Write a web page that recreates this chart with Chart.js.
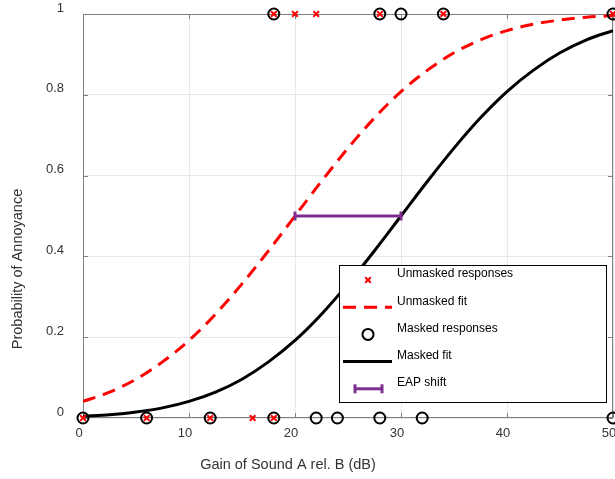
<!DOCTYPE html>
<html>
<head>
<meta charset="utf-8">
<title>Probability of Annoyance</title>
<script src="https://cdn.jsdelivr.net/npm/chart.js@4/dist/chart.umd.min.js"></script>
<style>
  html, body { margin: 0; padding: 0; background: #fff; }
  #wrap { width: 615px; height: 479px; }
</style>
</head>
<body>
<div id="wrap"><canvas id="chart" width="615" height="479"></canvas></div>
<script>
// Gains (dB) where each listener answered "not annoyed" (0) or "annoyed" (1)
const unmaskedNoGain = [0, 6, 12, 16, 18];
const unmaskedYesGain = [18, 20, 22, 28, 34, 50];
const maskedNoGain = [0, 6, 12, 18, 22, 24, 28, 32, 50];
const maskedYesGain = [18, 28, 30, 34, 50];

// Fitted psychometric curves, sampled every 2.5 dB
const fitGain = [0, 2.5, 5, 7.5, 10, 12.5, 15, 17.5, 20, 22.5, 25, 27.5, 30, 32.5, 35, 37.5, 40, 42.5, 45, 47.5, 50];
const unmaskedFit = [0.041, 0.064, 0.096, 0.139, 0.192, 0.257, 0.332, 0.414, 0.5, 0.586, 0.668, 0.743, 0.808, 0.861, 0.904, 0.936, 0.959, 0.975, 0.985, 0.992, 0.996];
const maskedFit = [0.005, 0.008, 0.015, 0.025, 0.041, 0.064, 0.096, 0.139, 0.192, 0.257, 0.332, 0.414, 0.5, 0.586, 0.668, 0.743, 0.808, 0.861, 0.904, 0.936, 0.959];

// Shift of the 50% point between the two fits
const eapGain = [20, 30];
const eapLevel = 0.5;

const xTicks = [0, 10, 20, 30, 40, 50];
const yTicks = [0, 0.2, 0.4, 0.6, 0.8, 1];

const FONT = '"Liberation Sans", Arial, Helvetica, sans-serif';
const TEXT = '#333333';
const AXIS = '#808080';
const RED = '#ff0000';
const PURPLE = '#7E2F8E';

function responses(noGain, yesGain) {
    return noGain.map(x => ({ x: x, y: 0 })).concat(yesGain.map(x => ({ x: x, y: 1 })));
}
function curve(xs, ys) {
    return xs.map((x, i) => ({ x: x, y: ys[i] }));
}

// box around the axes with short inward ticks
const axesFrame = {
    id: 'axesFrame',
    beforeDatasetsDraw(chart) {
        const { ctx, chartArea: a, scales } = chart;
        ctx.save();
        ctx.strokeStyle = AXIS;
        ctx.lineWidth = 1;
        ctx.strokeRect(a.left + 0.5, a.top + 0.5, a.right - a.left - 1, a.bottom - a.top - 1);
        ctx.beginPath();
        xTicks.forEach(v => {
            const px = Math.round(scales.x.getPixelForValue(v)) + 0.5;
            ctx.moveTo(px, a.bottom); ctx.lineTo(px, a.bottom - 5);
            ctx.moveTo(px, a.top); ctx.lineTo(px, a.top + 5);
        });
        yTicks.forEach(v => {
            const py = Math.round(scales.y.getPixelForValue(v)) + 0.5;
            ctx.moveTo(a.left, py); ctx.lineTo(a.left + 5, py);
            ctx.moveTo(a.right, py); ctx.lineTo(a.right - 5, py);
        });
        ctx.stroke();
        ctx.restore();
    },
    afterDraw(chart) {
        const { ctx, chartArea: a } = chart;
        ctx.save();
        ctx.fillStyle = TEXT;
        ctx.font = '14.5px ' + FONT;
        ctx.textAlign = 'center';
        ctx.textBaseline = 'middle';
        ctx.fillText('Gain of Sound A rel. B (dB)', a.left + 205, a.bottom + 47);
        ctx.translate(18, a.top + 255);
        ctx.rotate(-Math.PI / 2);
        ctx.fillText('Probability of Annoyance', 0, 0);
        ctx.restore();
    }
};

// legend box sitting inside the plot, lower right
const boxLegend = {
    id: 'boxLegend',
    afterDatasetsDraw(chart) {
        const { ctx, chartArea: a } = chart;
        const box = { x: a.left + 256, y: a.top + 251, w: 267, h: 137 };
        ctx.save();
        ctx.fillStyle = '#ffffff';
        ctx.fillRect(box.x, box.y, box.w, box.h);
        ctx.strokeStyle = '#000000';
        ctx.lineWidth = 1;
        ctx.strokeRect(box.x + 0.5, box.y + 0.5, box.w, box.h);

        const cx = box.x + 29;
        chart.data.datasets.forEach((ds, i) => {
            const y = box.y + 15 + i * 27.2;
            const short = ds.showLine && ds.pointRadius > 0;
            const x0 = short ? cx - 13 : box.x + 4;
            const x1 = short ? cx + 14 : box.x + 53;
            if (ds.showLine) {
                ctx.save();
                ctx.strokeStyle = ds.borderColor;
                ctx.lineWidth = ds.borderWidth;
                ctx.setLineDash(ds.borderDash || []);
                ctx.beginPath();
                ctx.moveTo(x0, y);
                ctx.lineTo(x1, y);
                ctx.stroke();
                ctx.restore();
            }
            if (ds.pointRadius > 0) {
                const opts = {
                    pointStyle: ds.pointStyle,
                    rotation: ds.pointRotation || 0,
                    radius: ds.pointRadius,
                    borderWidth: ds.pointBorderWidth
                };
                ctx.save();
                ctx.strokeStyle = ds.pointBorderColor;
                ctx.fillStyle = 'rgba(0,0,0,0)';
                ctx.lineWidth = ds.pointBorderWidth;
                (short ? [x0, x1] : [cx]).forEach(px => Chart.helpers.drawPoint(ctx, opts, px, y));
                ctx.restore();
            }
            ctx.fillStyle = '#000000';
            ctx.font = '12px ' + FONT;
            ctx.textAlign = 'left';
            ctx.textBaseline = 'middle';
            ctx.fillText(ds.label, box.x + 58, y - 6);
        });
        ctx.restore();
    }
};

new Chart(document.getElementById('chart'), {
    type: 'scatter',
    data: {
        datasets: [
            {
                label: 'Unmasked responses',
                data: responses(unmaskedNoGain, unmaskedYesGain),
                showLine: false,
                pointStyle: 'crossRot',
                pointRadius: 4,
                pointBorderWidth: 2,
                pointBorderColor: RED,
                pointBackgroundColor: RED,
                clip: false,
                order: 0
            },
            {
                label: 'Unmasked fit',
                data: curve(fitGain, unmaskedFit),
                showLine: true,
                borderColor: RED,
                borderWidth: 3,
                borderDash: [13, 8],
                cubicInterpolationMode: 'monotone',
                pointRadius: 0,
                order: 3
            },
            {
                label: 'Masked responses',
                data: responses(maskedNoGain, maskedYesGain),
                showLine: false,
                pointStyle: 'circle',
                pointRadius: 5.5,
                pointBorderWidth: 2,
                pointBorderColor: '#000000',
                pointBackgroundColor: 'rgba(0,0,0,0)',
                clip: false,
                order: 1
            },
            {
                label: 'Masked fit',
                data: curve(fitGain, maskedFit),
                showLine: true,
                borderColor: '#000000',
                borderWidth: 3,
                cubicInterpolationMode: 'monotone',
                pointRadius: 0,
                order: 4
            },
            {
                label: 'EAP shift',
                data: eapGain.map(x => ({ x: x, y: eapLevel })),
                showLine: true,
                borderColor: PURPLE,
                borderWidth: 3,
                pointStyle: 'line',
                pointRotation: 90,
                pointRadius: 4.5,
                pointBorderWidth: 3,
                pointBorderColor: PURPLE,
                order: 2
            }
        ]
    },
    options: {
        responsive: false,
        animation: false,
        layout: { autoPadding: false, padding: { top: 14, right: 2, left: 0, bottom: 0 } },
        plugins: {
            legend: { display: false },
            tooltip: { enabled: false }
        },
        scales: {
            x: {
                type: 'linear',
                min: 0,
                max: 50,
                afterBuildTicks: s => { s.ticks = xTicks.map(v => ({ value: v })); },
                afterFit: s => { s.height = 61; s.paddingLeft = 0; s.paddingRight = 0; },
                grid: { color: '#e8e8e8', drawTicks: false },
                border: { display: false },
                ticks: {
                    color: TEXT,
                    font: { family: FONT, size: 13 },
                    padding: 8,
                    labelOffset: -4,
                    maxRotation: 0,
                    autoSkip: false,
                    callback: v => String(v)
                }
            },
            y: {
                type: 'linear',
                min: 0,
                max: 1,
                afterBuildTicks: s => { s.ticks = yTicks.map(v => ({ value: v })); },
                afterFit: s => { s.width = 83; s.paddingTop = 0; s.paddingBottom = 0; },
                grid: { color: '#e8e8e8', drawTicks: false },
                border: { display: false },
                ticks: {
                    color: TEXT,
                    font: { family: FONT, size: 13 },
                    padding: 19,
                    labelOffset: -6,
                    autoSkip: false,
                    callback: v => String(v)
                }
            }
        }
    },
    plugins: [axesFrame, boxLegend]
});
</script>
</body>
</html>
